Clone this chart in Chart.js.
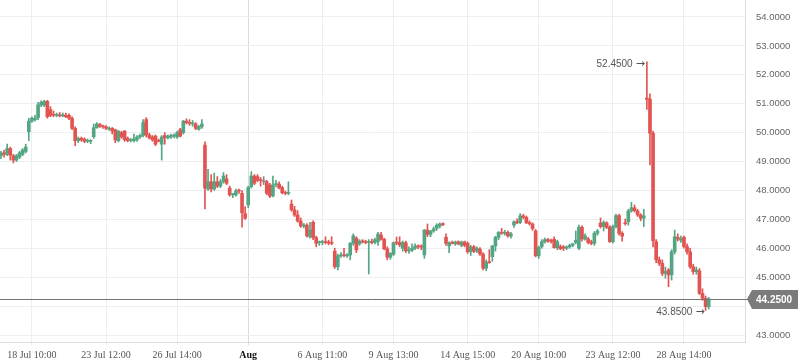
<!DOCTYPE html>
<html>
<head>
<meta charset="utf-8">
<script src="https://cdn.jsdelivr.net/npm/chart.js@4.4.1/dist/chart.umd.min.js"></script>
<style>
    html, body { margin: 0; padding: 0; background: #fff; }
    #wrap { width: 798px; height: 363px; }
</style>
</head>
<body>
<div id="wrap"><canvas id="chart" width="798" height="363"></canvas></div>
<script>
// candles, one per bar, oldest first
const opens = [
    49.20,49.30,49.25,49.45,49.20,49.05,49.15,49.25,49.35,50.03,
    50.40,50.45,50.52,50.96,50.95,51.08,50.80,50.62,50.60,50.61,
    50.58,50.60,50.60,50.50,50.15,49.72,49.80,49.78,49.70,49.70,
    49.86,50.17,50.28,50.22,50.20,50.12,50.15,50.10,49.72,50.00,
    50.05,49.80,49.72,49.72,49.75,49.85,49.90,50.45,49.92,49.85,
    49.88,49.72,49.60,49.90,49.82,49.85,49.88,49.85,50.10,50.00,
    50.40,50.34,50.30,50.30,50.12,50.20,49.57,48.05,48.30,48.05,
    48.30,48.15,48.30,48.40,48.08,47.85,47.84,48.00,47.90,47.20,
    47.50,48.13,48.50,48.48,48.35,48.30,48.30,48.19,47.81,48.20,
    48.22,48.10,47.92,47.90,47.53,47.33,47.15,46.94,46.77,46.80,
    46.40,46.90,46.37,46.20,46.20,46.22,46.20,46.20,45.90,45.36,
    45.74,45.76,45.74,45.77,46.17,46.35,46.15,46.25,46.22,46.20,
    46.23,46.20,46.23,46.46,46.31,45.98,45.69,45.79,46.20,46.20,
    46.00,46.19,45.91,45.93,46.00,46.08,46.05,45.77,46.63,46.48,
    46.60,46.69,46.77,46.85,46.38,46.08,46.20,46.15,46.22,46.10,
    46.22,46.17,45.88,46.05,45.90,45.97,45.80,45.31,45.52,45.71,
    46.08,46.38,46.55,46.52,46.55,46.42,46.80,46.92,46.89,47.12,
    47.07,46.89,46.84,46.60,45.74,46.06,46.23,46.30,46.25,46.31,
    46.02,46.06,46.05,46.00,46.05,46.10,46.20,46.00,46.73,46.32,
    46.32,46.22,46.17,46.52,46.87,46.75,46.87,46.73,46.23,46.75,
    47.13,46.52,46.87,46.92,47.29,47.40,47.29,47.15,47.04,51.20,
    51.16,49.98,46.23,45.60,45.48,45.13,45.25,45.08,45.88,46.38,
    46.28,46.38,46.06,45.88,45.36,45.19,45.22,44.44,44.27,43.98
];
const highs = [
    49.35,49.40,49.60,49.50,49.25,49.25,49.35,49.45,49.60,50.50,
    50.55,50.60,51.05,51.10,51.12,51.12,50.90,50.75,50.68,50.70,
    50.68,50.68,50.65,50.55,50.20,49.85,49.85,49.82,49.78,49.76,
    50.30,50.35,50.32,50.26,50.24,50.20,50.18,50.12,50.08,50.05,
    50.08,49.85,49.80,49.95,49.90,49.95,50.45,50.52,49.98,49.90,
    49.92,49.78,49.90,50.00,49.92,49.95,49.96,50.05,50.15,50.42,
    50.48,50.45,50.42,50.35,50.25,50.45,49.68,48.73,48.55,48.60,
    48.48,48.38,48.62,48.55,48.15,47.90,48.05,48.05,48.00,47.44,
    48.15,48.65,48.55,48.55,48.45,48.48,48.35,48.25,48.50,48.35,
    48.30,48.15,47.98,48.30,47.67,47.45,47.30,47.05,46.85,46.85,
    46.90,46.95,46.42,46.25,46.28,46.40,46.28,46.40,46.00,45.80,
    45.85,46.00,45.82,46.20,46.50,46.40,46.30,46.30,46.28,46.30,
    46.32,46.35,46.55,46.55,46.35,46.05,45.85,46.22,46.39,46.40,
    46.25,46.25,46.05,46.15,46.15,46.12,46.12,46.65,46.84,46.62,
    46.74,46.85,46.88,46.88,46.50,46.22,46.25,46.25,46.26,46.25,
    46.25,46.22,46.10,46.10,46.05,46.02,45.85,45.60,45.95,46.10,
    46.42,46.58,46.69,46.62,46.60,46.55,46.95,47.02,47.20,47.18,
    47.12,46.95,46.88,46.65,46.08,46.30,46.35,46.34,46.32,46.40,
    46.28,46.12,46.10,46.08,46.15,46.18,46.60,46.80,46.78,46.50,
    46.38,46.28,46.58,46.65,47.05,46.95,46.92,46.78,46.80,47.18,
    47.18,46.58,47.01,47.35,47.59,47.50,47.35,47.20,47.35,52.45,
    51.34,50.05,46.30,45.70,45.60,45.35,45.30,45.95,46.63,46.50,
    46.42,46.42,46.15,46.00,45.45,45.35,45.30,44.60,44.35,44.30
];
const lows = [
    49.10,49.15,49.20,49.05,48.95,49.00,49.10,49.20,49.30,49.72,
    50.35,50.40,50.45,50.90,50.90,50.50,50.55,50.55,50.55,50.55,
    50.55,50.52,50.45,50.10,49.55,49.65,49.70,49.65,49.65,49.62,
    49.80,50.15,50.18,50.15,50.10,50.08,49.95,49.65,49.68,49.80,
    49.70,49.68,49.68,49.68,49.70,49.80,49.85,49.85,49.78,49.70,
    49.55,49.68,49.05,49.60,49.78,49.80,49.82,49.80,49.85,49.95,
    50.30,50.25,50.22,50.10,50.08,50.15,47.36,48.00,47.95,48.00,
    48.10,48.10,48.25,48.20,47.80,47.75,47.80,47.90,46.73,47.00,
    47.40,48.08,48.20,48.30,48.15,48.20,47.85,47.75,47.78,48.12,
    48.05,47.88,47.85,47.85,47.28,47.10,46.90,46.72,46.70,46.38,
    46.35,46.30,46.05,46.10,46.12,46.15,46.12,46.12,45.30,45.25,
    45.68,45.70,45.68,45.60,46.10,45.85,46.10,46.18,46.15,45.11,
    46.15,46.15,46.10,46.28,45.95,45.60,45.62,45.75,46.12,46.05,
    45.90,45.85,45.82,45.88,45.95,45.98,45.95,45.65,46.40,46.40,
    46.55,46.62,46.70,46.78,46.10,45.85,46.15,46.10,46.12,46.05,
    46.05,45.82,45.75,45.85,45.85,45.75,45.25,45.22,45.48,45.55,
    45.90,46.30,46.48,46.45,46.38,46.35,46.72,46.85,46.85,47.02,
    46.85,46.80,46.62,45.70,45.65,46.00,46.18,46.20,46.18,46.00,
    45.95,45.95,45.92,45.95,46.00,46.05,46.15,45.95,46.25,46.28,
    46.15,46.12,46.10,46.45,46.70,46.60,46.68,46.20,46.18,46.70,
    46.45,46.25,46.80,46.80,47.25,47.25,47.10,46.95,46.75,50.80,
    48.88,46.05,45.50,45.40,45.05,44.96,44.67,44.90,45.80,46.25,
    46.20,46.00,45.80,45.30,45.10,45.10,44.40,44.20,43.85,43.90
];
const closes = [
    49.30,49.25,49.45,49.22,49.05,49.20,49.30,49.40,49.50,50.40,
    50.50,50.50,50.96,51.05,51.08,50.55,50.60,50.60,50.61,50.58,
    50.60,50.55,50.50,50.15,49.72,49.80,49.75,49.70,49.72,49.73,
    50.17,50.30,50.22,50.20,50.15,50.15,50.05,49.75,50.05,49.85,
    49.75,49.72,49.75,49.78,49.85,49.90,50.35,49.92,49.82,49.75,
    49.60,49.70,49.85,49.82,49.88,49.90,49.92,50.00,49.88,50.40,
    50.35,50.32,50.31,50.15,50.20,50.30,48.08,48.30,48.05,48.30,
    48.15,48.30,48.50,48.25,47.85,47.87,47.98,47.98,47.23,47.04,
    48.10,48.50,48.25,48.35,48.34,48.30,47.90,47.81,48.19,48.22,
    48.08,47.92,47.90,47.92,47.33,47.15,46.94,46.77,46.80,46.43,
    46.63,46.37,46.17,46.21,46.22,46.20,46.18,46.17,45.36,45.74,
    45.76,45.74,45.77,46.17,46.43,45.94,46.25,46.22,46.20,46.23,
    46.20,46.30,46.49,46.31,45.98,45.69,45.82,46.19,46.18,46.12,
    46.20,45.91,45.93,46.00,46.08,46.05,46.04,46.63,46.48,46.60,
    46.67,46.80,46.84,46.82,46.17,46.20,46.16,46.22,46.15,46.22,
    46.10,45.88,46.05,45.90,46.00,45.80,45.31,45.52,45.50,46.08,
    46.38,46.55,46.52,46.55,46.43,46.50,46.92,46.88,47.12,47.08,
    46.89,46.85,46.68,45.74,46.03,46.23,46.30,46.25,46.24,46.02,
    46.23,45.98,46.00,46.05,46.10,46.15,46.28,46.73,46.32,46.43,
    46.20,46.17,46.52,46.60,46.75,46.90,46.72,46.23,46.75,47.13,
    46.52,46.42,46.85,47.29,47.40,47.30,47.15,47.04,47.12,51.15,
    49.98,46.26,45.60,45.48,45.13,45.20,45.08,45.88,46.40,46.32,
    46.33,46.06,45.88,45.36,45.19,45.25,44.44,44.27,43.98,44.25
];

// time labels shown under the chart and the bar each one belongs to
const xLabels = ['18 Jul 10:00', '23 Jul 12:00', '26 Jul 14:00', 'Aug', '6 Aug 11:00',
                 '9 Aug 13:00', '14 Aug 15:00', '20 Aug 10:00', '23 Aug 12:00', '28 Aug 14:00'];
const xLabelIdx = [10, 34, 57, 80, 104, 127, 151, 174, 198, 221];
const yTicks = [43, 44, 45, 46, 47, 48, 49, 50, 51, 52, 53, 54];

const UP = '#53a683';
const DOWN = '#e25451';
const FLAT = '#8a8a8a';

function candleColor(i) {
    if (closes[i] > opens[i]) return UP;
    if (closes[i] < opens[i]) return DOWN;
    return FLAT;
}

const bodies = opens.map((o, i) => ({ x: i, y: [o, closes[i]] }));
const wicks = lows.map((l, i) => ({ x: i, y: [l, highs[i]] }));

// "value →" marker ending just left of a point
function drawMarker(ctx, text, xr, y) {
    ctx.textAlign = 'right';
    ctx.textBaseline = 'middle';
    ctx.font = '11px "DejaVu Sans", sans-serif';
    ctx.fillText('\u2192', xr, y);
    const aw = ctx.measureText('\u2192').width;
    ctx.font = '10px "Liberation Sans", Arial, sans-serif';
    ctx.fillText(text, xr - aw - 3, y);
}

// last price line + tag, and the high / low markers
const priceMarks = {
    id: 'priceMarks',
    afterDatasetsDraw(chart) {
        const { ctx, chartArea, scales } = chart;
        const last = closes[closes.length - 1];
        const y = Math.round(scales.y.getPixelForValue(last)) + 0.5;
        ctx.save();
        ctx.strokeStyle = '#747474';
        ctx.lineWidth = 1;
        ctx.beginPath();
        ctx.moveTo(chartArea.left, y);
        ctx.lineTo(chartArea.right, y);
        ctx.stroke();

        const hi = Math.max(...highs), lo = Math.min(...lows);
        const hiIdx = highs.indexOf(hi), loIdx = lows.indexOf(lo);
        ctx.fillStyle = '#555';
        drawMarker(ctx, hi.toFixed(4), scales.x.getPixelForValue(hiIdx) - 2, scales.y.getPixelForValue(hi) + 2);
        drawMarker(ctx, lo.toFixed(4), scales.x.getPixelForValue(loIdx) - 1, scales.y.getPixelForValue(lo) + 2);
        ctx.restore();
    },
    afterDraw(chart) {
        const { ctx, chartArea, scales } = chart;
        const last = closes[closes.length - 1];
        const y = Math.round(scales.y.getPixelForValue(last));
        const x0 = chartArea.right + 2, x1 = chart.width;
        ctx.save();
        ctx.strokeStyle = '#747474';
        ctx.beginPath();
        ctx.moveTo(chartArea.right, y + 0.5);
        ctx.lineTo(x0 + 2, y + 0.5);
        ctx.stroke();
        ctx.fillStyle = '#7b7b7b';
        ctx.beginPath();
        ctx.moveTo(x0, y);
        ctx.lineTo(x0 + 5, y - 9);
        ctx.lineTo(x1, y - 9);
        ctx.lineTo(x1, y + 10);
        ctx.lineTo(x0 + 5, y + 10);
        ctx.closePath();
        ctx.fill();
        ctx.fillStyle = '#fff';
        ctx.font = 'bold 10px "Liberation Sans", Arial, sans-serif';
        ctx.textAlign = 'left';
        ctx.textBaseline = 'middle';
        ctx.fillText(last.toFixed(4), 756, y + 1);
        ctx.restore();
    }
};

new Chart(document.getElementById('chart'), {
    type: 'bar',
    data: {
        datasets: [
            {
                data: bodies,
                backgroundColor: (c) => candleColor(c.dataIndex),
                barThickness: 3,
                minBarLength: 1,
                grouped: false,
                borderWidth: 0
            },
            {
                data: wicks,
                backgroundColor: (c) => candleColor(c.dataIndex),
                barThickness: 1,
                grouped: false,
                borderWidth: 0
            }
        ]
    },
    options: {
        responsive: false,
        animation: false,
        devicePixelRatio: 1,
        layout: { padding: 0 },
        plugins: {
            legend: { display: false },
            tooltip: { enabled: false }
        },
        scales: {
            x: {
                type: 'linear',
                offset: false,
                min: -0.32,
                max: 240.75,
                afterBuildTicks: (sc) => { sc.ticks = xLabelIdx.map(v => ({ value: v })); },
                afterFit: (sc) => { sc.paddingLeft = 0; sc.paddingRight = 0; sc.height = 21; },
                grid: {
                    offset: false,
                    color: (c) => (c.tick && c.tick.value === 80) ? '#d9dce1' : '#eceef2',
                    tickLength: 3
                },
                border: { color: '#d9dce1' },
                ticks: {
                    autoSkip: false,
                    maxRotation: 0,
                    padding: 4,
                    callback: (v) => xLabels[xLabelIdx.indexOf(v)],
                    color: (c) => c.tick && c.tick.value === 80 ? '#111' : '#555',
                    font: (c) => ({
                        family: '"Liberation Serif", "Times New Roman", serif',
                        size: 10,
                        weight: c.tick && c.tick.value === 80 ? 'bold' : 'normal'
                    })
                }
            },
            y: {
                position: 'right',
                min: 42.758,
                max: 54.588,
                afterBuildTicks: (sc) => { sc.ticks = yTicks.map(v => ({ value: v })); },
                afterFit: (sc) => { sc.width = 53; sc.paddingTop = 0; sc.paddingBottom = 0; },
                grid: { color: '#eceef2', drawTicks: false },
                border: { color: '#d9dce1' },
                ticks: {
                    padding: 11,
                    color: '#666',
                    font: { family: '"Liberation Sans", Arial, sans-serif', size: 9.5 },
                    callback: (v) => v.toFixed(4)
                }
            }
        }
    },
    plugins: [priceMarks]
});
</script>
</body>
</html>
